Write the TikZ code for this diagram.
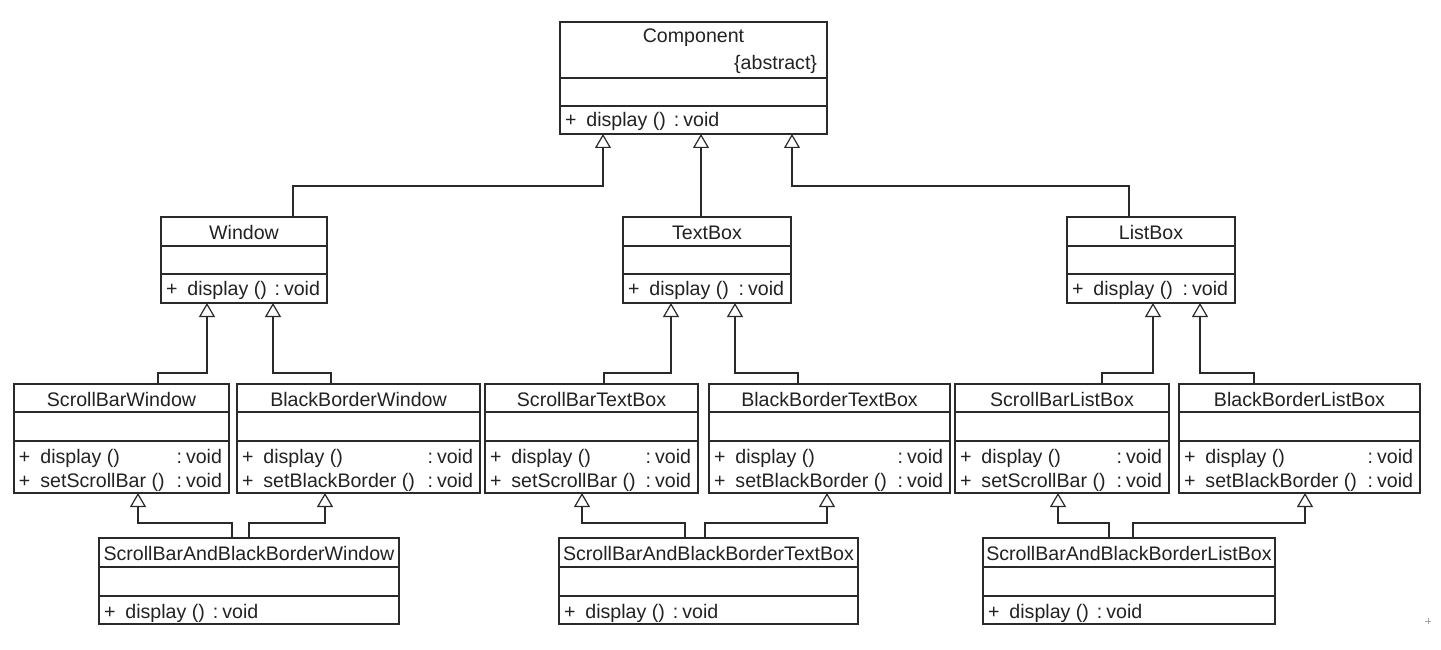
\documentclass[tikz,border=0pt]{standalone}
\usepackage{fontspec}
\setmainfont{Liberation Sans}
\usetikzlibrary{arrows.meta}
\definecolor{ink}{HTML}{222222}
\definecolor{linecol}{HTML}{2A2A2A}

\tikzset{
  classbox/.style={draw=linecol, line width=1.2pt, fill=white, rectangle,
                   inner sep=0pt, outer sep=0pt, anchor=north west},
  sepline/.style={draw=linecol, line width=1.2pt},
  txt/.style={inner sep=0pt, outer sep=0pt, text=ink, font=\fontsize{19.6}{23}\selectfont},
  gen/.style={draw=linecol, line width=1.2pt,
              -{Triangle[open, length=14pt, width=16pt, fill=white]}},
}

% class box: name, left, top, width, height, first divider, second divider
\newcommand\umlclass[7]{%
  \node[classbox, minimum width=#4pt, minimum height=#5pt] (#1) at (#2,#3) {};
  \draw[sepline] ([yshift=-#6pt]#1.north west) -- ([yshift=-#6pt]#1.north east);
  \draw[sepline] ([yshift=-#7pt]#1.north west) -- ([yshift=-#7pt]#1.north east);
}
% centred class name: box, baseline offset from top, text
\newcommand\classtitle[3]{\node[txt, anchor=base] (#1-title) at ([yshift=-#2pt]#1.north) {#3};}
% left-aligned operation text
\newcommand\opleft[3]{\node[txt, anchor=base west] (#1-l#2) at ([xshift=5pt, yshift=-#2pt]#1.north west) {#3};}
% right-aligned return type
\newcommand\opright[3]{\node[txt, anchor=base east] (#1-r#2) at ([xshift=-7pt, yshift=-#2pt]#1.north east) {#3};}

\newcommand\plusop[1]{+\hspace{10pt}#1}
\newcommand\retvoid{:\hspace{4pt}void}

\begin{document}
\begin{tikzpicture}[x=1pt, y=-1pt]
\useasboundingbox[fill=white] (0,0) rectangle (1441,650);

% ---- abstract component ----
\umlclass{comp}{560}{22}{267}{112}{56}{84}
\classtitle{comp}{21}{Component}
\node[txt, anchor=base east] (comp-abs) at ([xshift=-10pt, yshift=-48pt]comp.north east) {\{abstract\}};
\opleft{comp}{105}{\plusop{display ()}\hspace{8pt}\retvoid}

% ---- concrete components ----
\umlclass{win}{161}{217}{166}{86}{29}{57}
\classtitle{win}{22}{Window}
\opleft{win}{78}{\plusop{display ()}}
\opright{win}{78}{\retvoid}

\umlclass{txb}{623}{217}{168}{86}{29}{57}
\classtitle{txb}{22}{TextBox}
\opleft{txb}{78}{\plusop{display ()}}
\opright{txb}{78}{\retvoid}

\umlclass{lbx}{1067}{217}{168}{86}{29}{57}
\classtitle{lbx}{22}{ListBox}
\opleft{lbx}{78}{\plusop{display ()}}
\opright{lbx}{78}{\retvoid}

% ---- decorators ----
\umlclass{sbw}{14}{384}{215}{109}{28}{57}
\classtitle{sbw}{22}{ScrollBarWindow}
\opleft{sbw}{79}{\plusop{display ()}}
\opright{sbw}{79}{\retvoid}
\opleft{sbw}{103}{\plusop{setScrollBar ()}}
\opright{sbw}{103}{\retvoid}

\umlclass{bbw}{237}{384}{243}{109}{28}{57}
\classtitle{bbw}{22}{BlackBorderWindow}
\opleft{bbw}{79}{\plusop{display ()}}
\opright{bbw}{79}{\retvoid}
\opleft{bbw}{103}{\plusop{setBlackBorder ()}}
\opright{bbw}{103}{\retvoid}

\umlclass{sbt}{485}{384}{213}{109}{28}{57}
\classtitle{sbt}{22}{ScrollBarTextBox}
\opleft{sbt}{79}{\plusop{display ()}}
\opright{sbt}{79}{\retvoid}
\opleft{sbt}{103}{\plusop{setScrollBar ()}}
\opright{sbt}{103}{\retvoid}

\umlclass{bbt}{709}{384}{241}{109}{28}{57}
\classtitle{bbt}{22}{BlackBorderTextBox}
\opleft{bbt}{79}{\plusop{display ()}}
\opright{bbt}{79}{\retvoid}
\opleft{bbt}{103}{\plusop{setBlackBorder ()}}
\opright{bbt}{103}{\retvoid}

\umlclass{sbl}{955}{384}{214}{109}{28}{57}
\classtitle{sbl}{22}{ScrollBarListBox}
\opleft{sbl}{79}{\plusop{display ()}}
\opright{sbl}{79}{\retvoid}
\opleft{sbl}{103}{\plusop{setScrollBar ()}}
\opright{sbl}{103}{\retvoid}

\umlclass{bbl}{1179}{384}{241}{109}{28}{57}
\classtitle{bbl}{22}{BlackBorderListBox}
\opleft{bbl}{79}{\plusop{display ()}}
\opright{bbl}{79}{\retvoid}
\opleft{bbl}{103}{\plusop{setBlackBorder ()}}
\opright{bbl}{103}{\retvoid}

% ---- combined decorators ----
\umlclass{sbbw}{99}{538}{300}{86}{29}{58}
\classtitle{sbbw}{22}{ScrollBarAndBlackBorderWindow}
\opleft{sbbw}{80}{\plusop{display ()}\hspace{8pt}\retvoid}

\umlclass{sbbt}{559}{538}{299}{86}{29}{58}
\classtitle{sbbt}{22}{ScrollBarAndBlackBorderTextBox}
\opleft{sbbt}{80}{\plusop{display ()}\hspace{8pt}\retvoid}

\umlclass{sbbl}{983}{538}{292}{86}{29}{58}
\classtitle{sbbl}{22}{ScrollBarAndBlackBorderListBox}
\opleft{sbbl}{80}{\plusop{display ()}\hspace{8pt}\retvoid}

% ---- generalisations ----
\draw[gen] ([xshift=132pt]win.north west) -- ++(0,-31) -| ([xshift=43pt]comp.south west);
\draw[gen] ([xshift=78pt]txb.north west) -- ([xshift=141pt]comp.south west);
\draw[gen] ([xshift=62pt]lbx.north west) -- ++(0,-31) -| ([xshift=232pt]comp.south west);

\draw[gen] ([xshift=144pt]sbw.north west) -- ++(0,-11) -| ([xshift=46pt]win.south west);
\draw[gen] ([xshift=94pt]bbw.north west) -- ++(0,-11) -| ([xshift=112pt]win.south west);
\draw[gen] ([xshift=119pt]sbt.north west) -- ++(0,-11) -| ([xshift=48pt]txb.south west);
\draw[gen] ([xshift=89pt]bbt.north west) -- ++(0,-11) -| ([xshift=112pt]txb.south west);
\draw[gen] ([xshift=147pt]sbl.north west) -- ++(0,-11) -| ([xshift=86pt]lbx.south west);
\draw[gen] ([xshift=75pt]bbl.north west) -- ++(0,-11) -| ([xshift=133pt]lbx.south west);

\draw[gen] ([xshift=133pt]sbbw.north west) -- ++(0,-15) -| ([xshift=124pt]sbw.south west);
\draw[gen] ([xshift=150pt]sbbw.north west) -- ++(0,-15) -| ([xshift=88pt]bbw.south west);
\draw[gen] ([xshift=126pt]sbbt.north west) -- ++(0,-15) -| ([xshift=97pt]sbt.south west);
\draw[gen] ([xshift=146pt]sbbt.north west) -- ++(0,-15) -| ([xshift=118pt]bbt.south west);
\draw[gen] ([xshift=126pt]sbbl.north west) -- ++(0,-15) -| ([xshift=103pt]sbl.south west);
\draw[gen] ([xshift=150pt]sbbl.north west) -- ++(0,-15) -| ([xshift=126pt]bbl.south west);

% small marker in the lower right corner
\draw[gray!70, line width=1pt] (1425,621) -- (1431,621) (1428,618) -- (1428,624);
\end{tikzpicture}
\end{document}
